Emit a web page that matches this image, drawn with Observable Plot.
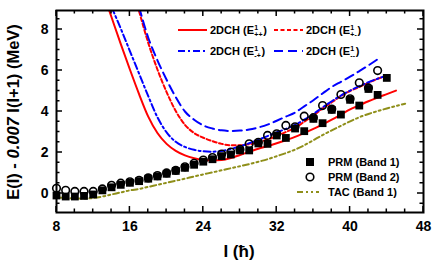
<!DOCTYPE html>
<html><head><meta charset="utf-8">
<script src="https://cdn.jsdelivr.net/npm/d3@7"></script>
<script src="https://cdn.jsdelivr.net/npm/@observablehq/plot@0.6"></script>
<style>html,body{margin:0;padding:0;background:#fff} svg{display:block}</style>
</head><body><div id="chart"></div>
<script>
// ---- data ----
const band1Spin = [8,9,10,11,12,13,14,15,16,17,18,19,20,21,22,23,24,25,26,27,28,29,30,31,32,33,34,35,36,37,38,39,40,41,42,43,44];
const band1E = [-0.1,-0.15,-0.15,-0.12,-0.05,0.15,0.3,0.42,0.52,0.6,0.72,0.83,0.96,1.1,1.25,1.4,1.55,1.67,1.82,1.9,2.1,2.1,2.44,2.42,2.83,2.71,3.17,3.04,3.64,3.43,4.08,3.85,4.57,4.29,5.1,4.81,5.64];
const band2Spin = [8,9,10,11,12,13,14,15,16,17,18,19,20,21,22,23,24,25,26,27,28,29,30,31,32,33,34,35,36,37,38,39,40,41,42,43];
const band2E = [0.25,0.15,0.1,0.1,0.1,0.22,0.4,0.5,0.57,0.64,0.76,0.87,1.0,1.13,1.3,1.47,1.63,1.75,1.92,2.02,2.15,2.42,2.5,2.83,2.91,3.32,3.25,3.77,3.7,4.29,4.12,4.83,4.62,5.4,5.15,6.0];

const eppSpin = [13,14,15,16,17,18,19,20,21,22,23,24,25,26,27,28,29,30,31,32,33,34,35,36,37,38,39,40,41,42,43,44,45];
const eppE = [9.9,8.6,7.3,6.05,4.85,3.75,2.95,2.42,2.08,1.86,1.72,1.64,1.61,1.63,1.73,1.88,2.03,2.18,2.31,2.45,2.6,2.76,2.95,3.15,3.37,3.6,3.85,4.1,4.3,4.5,4.68,4.85,5.02];
const empSpin = [14,15,16,17,18,19,20,21,22,23,24,25,26,27,28,29,30,31,32,33,34,35,36,37,38,39,40,41,42,43,44];
const empE = [9.1,8.05,6.95,5.85,4.75,3.72,2.98,2.52,2.27,2.13,2.06,2.04,2.07,2.17,2.3,2.45,2.62,2.8,2.98,3.15,3.35,3.6,3.88,4.2,4.5,4.78,5.02,5.24,5.43,5.6,5.76];
const epmSpin = [17,18,19,20,21,22,23,24,25,26,27,28,29,30,31,32,33,34,35,36,37,38,39,40,41,42,43,44];
const epmE = [8.9,7.35,6.05,4.95,4.02,3.35,2.95,2.72,2.55,2.42,2.35,2.35,2.4,2.5,2.63,2.8,3.0,3.2,3.5,3.8,4.15,4.45,4.75,5.0,5.2,5.4,5.6,5.75];
const emmSpin = [17,18,19,20,21,22,23,24,25,26,27,28,29,30,31,32,33,34,35,36,37,38,39,40,41,42,43];
const emmE = [9.1,7.6,6.5,5.55,4.7,4.0,3.6,3.32,3.17,3.08,3.05,3.07,3.12,3.22,3.36,3.55,3.75,3.95,4.25,4.55,4.88,5.2,5.45,5.7,5.97,6.25,6.55];
const tacSpin = [8,9,10,11,12,13,14,15,16,17,18,19,20,21,22,23,24,25,26,27,28,29,30,31,32,33,34,35,36,37,38,39,40,41,42,43,44,45,46];
const tacE = [-0.2,-0.22,-0.25,-0.25,-0.22,-0.15,-0.05,0.05,0.15,0.22,0.32,0.42,0.52,0.62,0.72,0.83,0.93,1.03,1.13,1.23,1.33,1.43,1.55,1.67,1.82,1.97,2.14,2.35,2.6,2.85,3.08,3.3,3.52,3.72,3.88,4.02,4.15,4.27,4.38];

const xTickLabels = [8,16,24,32,40,48];
const xMinorTicks = [10,12,14,18,20,22,26,28,30,34,36,38,42,44,46];
const yTickLabels = [0,2,4,6,8];
const yMinorTicks = [-0.5,0.5,1,1.5,2.5,3,3.5,4.5,5,5.5,6.5,7,7.5,8.5];

const curves = [
  {spin: eppSpin, e: eppE, color: "#ff0000", dash: null, sub: "++"},
  {spin: epmSpin, e: epmE, color: "#ff0000", dash: "4,2.5", sub: "+-"},
  {spin: empSpin, e: empE, color: "#0000ff", dash: "7,3,2,3", sub: "-+"},
  {spin: emmSpin, e: emmE, color: "#0000ff", dash: "9,5", sub: "--"}
];
const tacColor = "#8f8f1a";

// ---- build tables ----
const toRows = (sp, e) => sp.map((d, i) => ({I: d, E: e[i]}));
const W = 436, H = 265, mL = 56, mR = 13, mT = 10, mB = 53;

const marks = [];
for (const c of curves) {
  marks.push(Plot.line(toRows(c.spin, c.e), {x: "I", y: "E", stroke: c.color, strokeWidth: 2, strokeDasharray: c.dash, curve: "monotone-x", clip: true}));
}
marks.push(Plot.line(toRows(tacSpin, tacE), {x: "I", y: "E", stroke: tacColor, strokeWidth: 2, strokeDasharray: "6,3,2,3,2,3", curve: "monotone-x", clip: true}));
marks.push(Plot.dot(toRows(band1Spin, band1E), {x: "I", y: "E", symbol: "square", r: 4.4, fill: "black", stroke: "none"}));
marks.push(Plot.dot(toRows(band2Spin, band2E), {x: "I", y: "E", symbol: "circle", r: 3.8, fill: "none", stroke: "black", strokeWidth: 1.6}));
marks.push(Plot.axisX({anchor: "bottom", ticks: xTickLabels, tickSize: 0, tickPadding: 9, fontSize: 14, fontWeight: "bold", label: null}));
marks.push(Plot.axisY({anchor: "left", ticks: yTickLabels, tickSize: 0, tickPadding: 8, fontSize: 14, fontWeight: "bold", label: null}));
marks.push(Plot.frame({stroke: "black", strokeWidth: 2}));

const svg = Plot.plot({
  width: W, height: H,
  marginLeft: mL, marginRight: mR, marginTop: mT, marginBottom: mB,
  x: {domain: [8, 48]},
  y: {domain: [-0.93, 8.93]},
  style: {fontFamily: "'Liberation Sans', Arial, sans-serif", background: "white", color: "black"},
  marks
});
document.getElementById("chart").appendChild(svg);

const sel = d3.select(svg);
const fontFam = "'Liberation Sans', Arial, sans-serif";

// ---- axis titles and legends ----
const yl = sel.append("text").attr("transform", "translate(19,112) rotate(-90)")
  .attr("text-anchor", "middle").attr("font-family", fontFam).attr("font-size", 16.5).attr("font-weight", "bold");
yl.append("tspan").text("E(I) - ");
yl.append("tspan").attr("font-style", "italic").text("0.007");
yl.append("tspan").text(" I(I+1) (MeV)");

sel.append("text").attr("x", 239).attr("y", 257).attr("text-anchor", "middle")
  .attr("font-family", fontFam).attr("font-size", 17).attr("font-weight", "bold").text("I (ħ)");

function legendLabel(x, y, c) {
  const g = sel.append("g").attr("font-family", fontFam).attr("font-weight", "bold")
    .attr("fill", "black").attr("text-anchor", "start");
  const t = g.append("text").attr("x", x).attr("y", y).attr("font-size", 11).text("2DCH (E");
  const w = t.node().getComputedTextLength();
  g.append("text").attr("x", x + w + 0.3).attr("y", y - 4.5).attr("font-size", 7).text("1");
  const st = g.append("text").attr("x", x + w + 0.3).attr("y", y + 2.5).attr("font-size", 7).text(c.sub);
  const sw = st.node().getComputedTextLength();
  g.append("text").attr("x", x + w + 1 + Math.max(sw, 4)).attr("y", y).attr("font-size", 11).text(")");
}
const legPos = [[178, 30], [274, 30], [178, 51], [274, 51]];
curves.forEach((c, k) => {
  const [x, y] = legPos[k];
  sel.append("line").attr("x1", x).attr("x2", x + 29).attr("y1", y).attr("y2", y)
    .attr("stroke", c.color).attr("stroke-width", 2).attr("stroke-dasharray", c.dash);
  legendLabel(x + 32, y + 4, c);
});

const lg = sel.append("g").attr("font-family", fontFam).attr("font-weight", "bold")
  .attr("font-size", 11).attr("text-anchor", "start");
lg.append("rect").attr("x", 306).attr("y", 158).attr("width", 8).attr("height", 8).attr("fill", "black");
lg.append("text").attr("x", 328).attr("y", 166).text("PRM (Band 1)");
lg.append("circle").attr("cx", 310).attr("cy", 177).attr("r", 3.8).attr("fill", "none").attr("stroke", "black").attr("stroke-width", 1.6);
lg.append("text").attr("x", 328).attr("y", 181).text("PRM (Band 2)");
lg.append("line").attr("x1", 297).attr("x2", 319).attr("y1", 192).attr("y2", 192)
  .attr("stroke", tacColor).attr("stroke-width", 2).attr("stroke-dasharray", "6,3,2,3,2,3");
lg.append("text").attr("x", 328).attr("y", 196).text("TAC (Band 1)");

// ---- inward ticks on all four sides, positioned with Plot's own scales (last, so any error is reported) ----
const xs = svg.scale("x"), ys = svg.scale("y");
const xLeft = xs.apply(8), xRight = xs.apply(48);
const yBotPx = ys.apply(-0.93), yTopPx = ys.apply(8.93);
const tg = sel.append("g").attr("stroke", "black").attr("stroke-width", 1.5).attr("fill", "none");
function addX(vals, len) {
  for (const v of vals) {
    const x = xs.apply(v);
    tg.append("path").attr("d", `M${x},${yBotPx}V${yBotPx - len}M${x},${yTopPx}V${yTopPx + len}`);
  }
}
function addY(vals, len) {
  for (const v of vals) {
    const y = ys.apply(v);
    tg.append("path").attr("d", `M${xLeft},${y}H${xLeft + len}M${xRight},${y}H${xRight - len}`);
  }
}
addX(xTickLabels, 6); addX(xMinorTicks, 3.5);
addY(yTickLabels, 6); addY(yMinorTicks, 3.5);
</script>
</body></html>
